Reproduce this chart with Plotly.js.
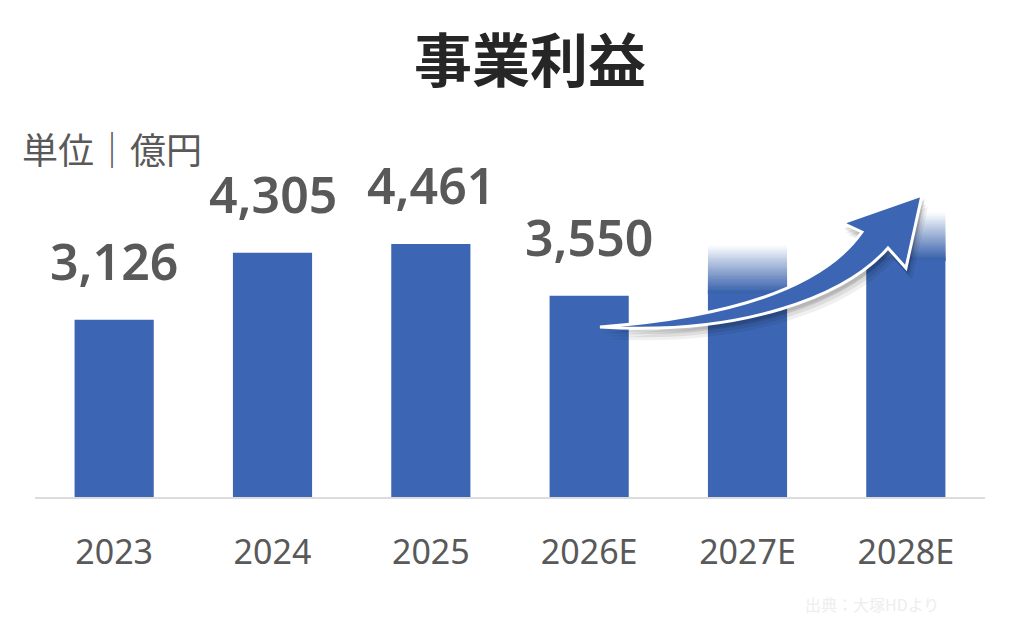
<!DOCTYPE html>
<html>
<head>
<meta charset="utf-8">
<script src="https://cdn.plot.ly/plotly-3.0.1.min.js"></script>
<style>
  html, body { margin: 0; padding: 0; background: #ffffff; }
  #chart { width: 1024px; height: 627px; }
</style>
</head>
<body>
<div id="chart"></div>
<script>
// ---- data ----
const categories = ['2023', '2024', '2025', '2026E', '2027E', '2028E'];
const values = [3126, 4305, 4461, 3550, 4430, 5010];
const valueLabels = ['3,126', '4,305', '4,461', '3,550', '', ''];
const fadedTop = [false, false, false, false, true, true];
const chartTitle = '事業利益';
const unitLabel = '単位｜億円';
const sourceLabel = '出典：大塚HDより';

// ---- style ----
const BLUE = [60, 102, 180];
const FONT = 'Noto Sans, "Noto Sans CJK JP", sans-serif';
const CJK = '"Noto Sans CJK JP", "Noto Sans", sans-serif';
const FADE = 850;      // data units of the faded top part
const STEPS = 30;

// plot area in pixels (for decorations in paper coordinates)
const ML = 35, MR = 39, MT = 100, MB = 130;
const W = 1024 - ML - MR, H = 627 - MT - MB, BASE = 627 - MB;

const traces = [];
traces.push({
  type: 'bar',
  x: categories,
  y: values.map((v, i) => fadedTop[i] ? v - FADE : v),
  marker: { color: `rgb(${BLUE.join(',')})`, line: { width: 0 } },
  hoverinfo: 'skip',
  showlegend: false
});
// overlaid translucent layers (starting where the solid part ends) build a linear fade
for (let k = 2; k <= STEPS; k++) {
  const alpha = 1 / k;
  traces.push({
    type: 'bar',
    x: categories,
    base: values.map((v, i) => fadedTop[i] ? v - FADE : 0),
    y: values.map((v, i) => fadedTop[i] ? FADE * k / STEPS : 0),
    marker: { color: `rgba(${BLUE.join(',')},${alpha.toFixed(4)})`, line: { width: 0 } },
    hoverinfo: 'skip',
    showlegend: false
  });
}

// value labels (x given as category index)
const annotations = [];
categories.forEach((c, i) => {
  if (!valueLabels[i]) return;
  annotations.push({
    x: i, y: values[i], xref: 'x', yref: 'y',
    text: valueLabels[i], showarrow: false,
    yanchor: 'bottom', xanchor: 'center', yshift: 23,
    font: { family: FONT, size: 50, color: '#595959', weight: 600 }
  });
});

annotations.push({
  xref: 'paper', yref: 'paper',
  x: (112 - ML) / W, y: (BASE - 148) / H,
  xanchor: 'center', yanchor: 'middle', showarrow: false,
  text: unitLabel,
  font: { family: CJK, size: 36, color: '#595959' }
});
annotations.push({
  xref: 'paper', yref: 'paper',
  x: (872 - ML) / W, y: (BASE - 604) / H,
  xanchor: 'center', yanchor: 'middle', showarrow: false,
  text: sourceLabel,
  font: { family: CJK, size: 16, color: '#eeeeee' }
});

// decorative curved arrow (paper coordinates from pixel positions)
function P(px, py) { return ((px - ML) / W).toFixed(4) + ',' + ((BASE - py) / H).toFixed(4); }
function arrowPath(dx, dy) {
  const p = (x, y) => P(x + dx, y + dy);
  return 'M' + p(600, 327) +
    ' C' + p(720, 318) + ' ' + p(820, 292) + ' ' + p(862, 232) +
    ' L' + p(842, 223) + ' L' + p(922, 195) + ' L' + p(906, 268) + ' L' + p(888, 248) +
    ' C' + p(845, 297) + ' ' + p(740, 336) + ' ' + p(600, 327) + ' Z';
}
const shapes = [];
[[2, 6, 0.10], [4, 9, 0.08], [6, 12, 0.06], [3, 4, 0.08]].forEach(([dx, dy, o]) => {
  shapes.push({
    type: 'path', xref: 'paper', yref: 'paper', path: arrowPath(dx, dy),
    fillcolor: `rgba(0,0,0,${o})`, line: { width: 0 }, layer: 'above'
  });
});
shapes.push({
  type: 'path', xref: 'paper', yref: 'paper', path: arrowPath(0, 0),
  fillcolor: `rgb(${BLUE.join(',')})`, line: { color: '#ffffff', width: 3 }, layer: 'above'
});

const layout = {
  width: 1024, height: 627,
  margin: { l: ML, r: MR, t: MT, b: MB },
  paper_bgcolor: '#ffffff', plot_bgcolor: '#ffffff',
  barmode: 'overlay', bargap: 0.5,
  title: {
    text: '<b>' + chartTitle + '</b>',
    x: 530 / 1024, xref: 'container', xanchor: 'center',
    y: 1 - 62 / 627, yref: 'container', yanchor: 'middle',
    font: { family: CJK, size: 58, color: '#262626' }
  },
  xaxis: {
    type: 'category', range: [-0.5, 5.5], fixedrange: true,
    showline: true, linecolor: '#dcdcdc', linewidth: 2,
    ticks: '', showgrid: false, zeroline: false,
    ticklabelstandoff: 24,
    tickfont: { family: FONT, size: 34, color: '#595959' }
  },
  yaxis: {
    range: [0, 7000], visible: false, fixedrange: true,
    showgrid: false, zeroline: false
  },
  annotations: annotations,
  shapes: shapes,
  showlegend: false
};

Plotly.newPlot('chart', traces, layout, { displayModeBar: false, staticPlot: true });
</script>
</body>
</html>
